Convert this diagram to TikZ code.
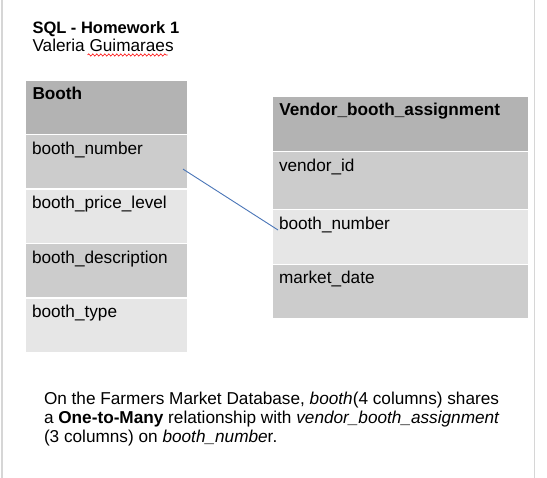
\documentclass[tikz,border=0pt]{standalone}
\usepackage{fontspec}
\setmainfont{Liberation Sans}
\usetikzlibrary{calc,decorations.pathmorphing}
\definecolor{hdrgray}{HTML}{B3B3B3}
\definecolor{midgray}{HTML}{CCCCCC}
\definecolor{ltgray}{HTML}{E6E6E6}
\definecolor{framegray}{HTML}{D6D6D6}
\definecolor{linkblue}{HTML}{4A76B8}
\tikzset{
  cell/.style={draw=none, inner sep=0pt, outer sep=0pt, anchor=north west},
  boothcell/.style={cell, minimum width=160.7pt, minimum height=53pt},
  vendcell/.style={cell, minimum width=255.6pt},
  txt/.style={inner sep=0pt, outer sep=0pt, anchor=base west, font=\fontsize{17.2}{20}\selectfont},
  btxt/.style={txt, font=\fontsize{17.2}{20}\selectfont\bfseries},
  ttxt/.style={txt, font=\fontsize{16.5}{20}\selectfont\bfseries},
  link/.style={draw=linkblue, line width=0.9pt},
  frameline/.style={draw=framegray, line width=1.3pt},
  wavy/.style={draw=red, line width=0.6pt, decorate, decoration={snake, amplitude=1.1pt, segment length=4pt}}
}
\begin{document}
\begin{tikzpicture}[x=1pt,y=1pt]
\useasboundingbox[fill=white] (0,0) rectangle (547,-478);
% page frame
\draw[frameline] (2,0) -- (2,-478);
\draw[frameline] (534.5,0) -- (534.5,-478);
% title
\node[ttxt] (title) at (32.5,-33.3) {SQL - Homework 1};
\node[txt] (author) at (32.5,-51.7) {Valeria Guimaraes};
\draw[wavy] (87.5,-55) -- (167.5,-55);
% Booth table
\node[boothcell, fill=hdrgray] (b0) at (26,-81) {};
\node[boothcell, fill=midgray] (b1) at (26,-135.4) {};
\node[boothcell, fill=ltgray] (b2) at (26,-189.8) {};
\node[boothcell, fill=midgray] (b3) at (26,-244.2) {};
\node[boothcell, fill=ltgray] (b4) at (26,-298.6) {};
\node[btxt] (b0t) at ([shift={(6.5,-19)}]b0.north west) {Booth};
\node[txt] (b1t) at ([shift={(6,-19)}]b1.north west) {booth\_number};
\node[txt] (b2t) at ([shift={(6,-19)}]b2.north west) {booth\_price\_level};
\node[txt] (b3t) at ([shift={(6,-19)}]b3.north west) {booth\_description};
\node[txt] (b4t) at ([shift={(6,-19)}]b4.north west) {booth\_type};
% Vendor_booth_assignment table
\node[vendcell, fill=hdrgray, minimum height=53.7pt] (v0) at (272.7,-97.3) {};
\node[vendcell, fill=midgray, minimum height=56.7pt] (v1) at (272.7,-152.3) {};
\node[vendcell, fill=ltgray, minimum height=53.4pt] (v2) at (272.7,-210.3) {};
\node[vendcell, fill=midgray, minimum height=53.3pt] (v3) at (272.7,-265) {};
\node[btxt] (v0t) at ([shift={(6.6,-18.7)}]v0.north west) {Vendor\_booth\_assignment};
\node[txt] (v1t) at ([shift={(6.3,-19.4)}]v1.north west) {vendor\_id};
\node[txt] (v2t) at ([shift={(6.3,-19)}]v2.north west) {booth\_number};
\node[txt] (v3t) at ([shift={(6.3,-18.3)}]v3.north west) {market\_date};
% relationship connector
\draw[link] ([shift={(-3.7,-7.2)}]b1.east) -- ([shift={(5.3,7)}]v2.west);
% description
\node[txt] (d1) at (44,-404.3) {On the Farmers Market Database, \textit{booth}(4 columns) shares};
\node[txt] (d2) at (44,-423.3) {a \textbf{One-to-Many} relationship with \textit{vendor\_booth\_assignment}};
\node[txt] (d3) at (44,-442.7) {(3 columns) on \textit{booth\_numbe}r.};
\end{tikzpicture}
\end{document}
